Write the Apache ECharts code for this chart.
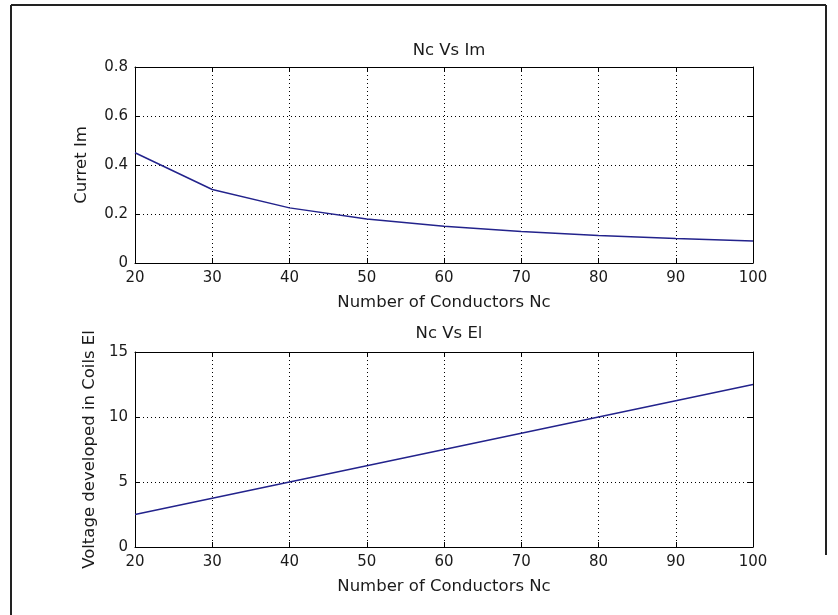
<!DOCTYPE html>
<html>
<head>
<meta charset="utf-8">
<script src="https://cdn.jsdelivr.net/npm/echarts@6/dist/echarts.min.js"></script>
<style>
  html, body { margin: 0; padding: 0; background: #fff; }
  #main { width: 838px; height: 615px; }
</style>
</head>
<body>
<div id="main"></div>
<script>
// Number of conductors (x axis, both plots)
var nc = [20, 30, 40, 50, 60, 70, 80, 90, 100]
// Current Im for each Nc
var currentIm = [0.45, 0.30, 0.225, 0.18, 0.15, 0.129, 0.1125, 0.10, 0.09]
// Voltage developed in coils El
var voltageEl = [2.5, 3.75, 5.0, 6.25, 7.5, 8.75, 10.0, 11.25, 12.5]
var xTicks = [20, 30, 40, 50, 60, 70, 80, 90, 100]
var imTicks = [0, 0.2, 0.4, 0.6, 0.8]
var elTicks = [0, 5, 10, 15]

var chart = echarts.init(document.getElementById('main'))
var FONT = 'DejaVu Sans'
var txt = { color: '#1a1a1a', fontFamily: FONT, fontSize: 15 }
var nameTxt = { color: '#1a1a1a', fontFamily: FONT, fontSize: 16.5 }

function pairs (xs, ys) {
  return xs.map(function (x, i) { return [x, ys[i]] })
}

function xAx (grid, top) {
  return {
    type: 'value', gridIndex: grid, position: top ? 'top' : 'bottom',
    min: xTicks[0], max: xTicks[xTicks.length - 1], interval: 10,
    axisLine: { show: true, onZero: false, lineStyle: { color: '#000', width: 1 } },
    axisTick: { show: true, inside: true, length: 5, lineStyle: { color: '#000' } },
    axisLabel: Object.assign({ show: !top, margin: 8 }, txt),
    splitLine: { show: !top, lineStyle: { color: '#000', type: [1, 3], width: 1 } },
    name: top ? '' : 'Number of Conductors Nc',
    nameLocation: 'middle', nameGap: 31, nameTextStyle: nameTxt
  }
}

function yAx (grid, right, ticks, name, gap) {
  return {
    type: 'value', gridIndex: grid, position: right ? 'right' : 'left',
    min: ticks[0], max: ticks[ticks.length - 1], interval: ticks[1] - ticks[0],
    axisLine: { show: true, onZero: false, lineStyle: { color: '#000', width: 1 } },
    axisTick: { show: true, inside: true, length: 5, lineStyle: { color: '#000' } },
    axisLabel: Object.assign({ show: !right, margin: 7 }, txt),
    splitLine: { show: !right, lineStyle: { color: '#000', type: [1, 3], width: 1 } },
    name: right ? '' : name,
    nameLocation: 'middle', nameGap: gap, nameTextStyle: nameTxt
  }
}

chart.setOption({
  backgroundColor: '#fff',
  animation: false,
  title: [
    { text: 'Nc Vs Im', left: 444, top: 37, textAlign: 'center', textStyle: Object.assign({ fontWeight: 'normal' }, nameTxt) },
    { text: 'Nc Vs El', left: 444, top: 320, textAlign: 'center', textStyle: Object.assign({ fontWeight: 'normal' }, nameTxt) }
  ],
  grid: [
    { left: 135, top: 67, width: 618, height: 196 },
    { left: 135, top: 352, width: 618, height: 195 }
  ],
  xAxis: [xAx(0, false), xAx(0, true), xAx(1, false), xAx(1, true)],
  yAxis: [
    yAx(0, false, imTicks, 'Curret Im', 45),
    yAx(0, true, imTicks, '', 0),
    yAx(1, false, elTicks, 'Voltage developed in Coils El', 37),
    yAx(1, true, elTicks, '', 0)
  ],
  series: [
    {
      type: 'line', xAxisIndex: 0, yAxisIndex: 0, data: pairs(nc, currentIm),
      showSymbol: false, lineStyle: { color: '#23238c', width: 1.5 }
    },
    {
      type: 'line', xAxisIndex: 2, yAxisIndex: 2, data: pairs(nc, voltageEl),
      showSymbol: false, lineStyle: { color: '#23238c', width: 1.5 }
    }
  ],
  graphic: [
    { type: 'line', shape: { x1: 11, y1: 5, x2: 826, y2: 5 }, style: { stroke: '#222', lineWidth: 2 } },
    { type: 'line', shape: { x1: 11, y1: 5, x2: 11, y2: 615 }, style: { stroke: '#222', lineWidth: 2 } },
    { type: 'line', shape: { x1: 826, y1: 5, x2: 826, y2: 555 }, style: { stroke: '#222', lineWidth: 2 } }
  ]
})
</script>
</body>
</html>
